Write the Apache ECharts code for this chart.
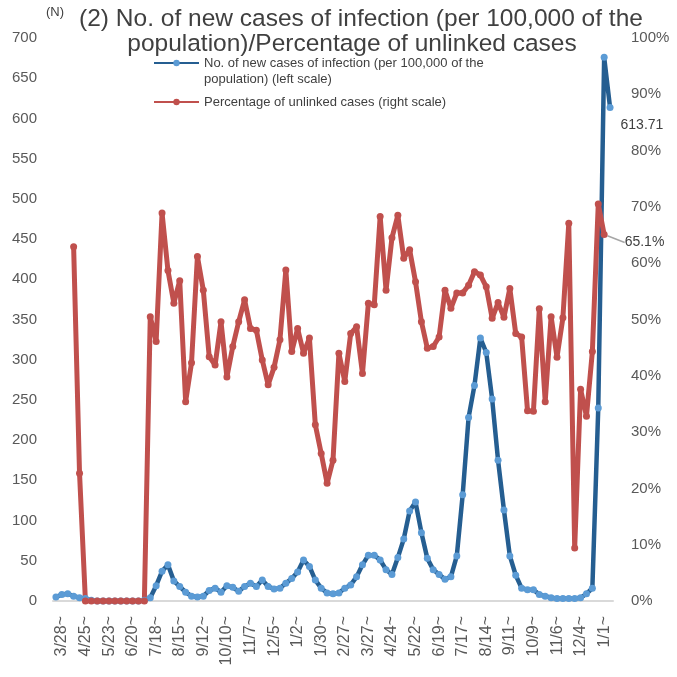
<!DOCTYPE html>
<html>
<head>
<meta charset="utf-8">
<script src="https://cdn.jsdelivr.net/npm/echarts@6/dist/echarts.min.js"></script>
<style>
  html, body { margin: 0; padding: 0; background: #ffffff; }
  #chart { width: 677px; height: 677px; }
</style>
</head>
<body>
<div id="chart"></div>
<script>
// Week starting dates (weekly, 2020/3/28 - 2022/1/15)
const weeks = [
  '3/28','4/4','4/11','4/18','4/25','5/2','5/9','5/16','5/23','5/30','6/6','6/13','6/20','6/27','7/4','7/11',
  '7/18','7/25','8/1','8/8','8/15','8/22','8/29','9/5','9/12','9/19','9/26','10/3','10/10','10/17','10/24','10/31',
  '11/7','11/14','11/21','11/28','12/5','12/12','12/19','12/26','1/2','1/9','1/16','1/23','1/30','2/6','2/13','2/20',
  '2/27','3/6','3/13','3/20','3/27','4/3','4/10','4/17','4/24','5/1','5/8','5/15','5/22','5/29','6/5','6/12',
  '6/19','6/26','7/3','7/10','7/17','7/24','7/31','8/7','8/14','8/21','8/28','9/4','9/11','9/18','9/25','10/2',
  '10/9','10/16','10/23','10/30','11/6','11/13','11/20','11/27','12/4','12/11','12/18','12/25','1/1','1/8','1/15'
];

// New cases of infection per 100,000 population (left scale)
const newCases = [
  5, 8, 9, 6, 4, 3, 1, 0, 0, 0, 0, 0, 0, 0, 0, 1,
  4, 19, 37, 45, 25, 18, 11, 6, 5, 6, 13, 16, 11, 19, 17, 12,
  18, 22, 18, 26, 18, 15, 16, 22, 28, 36, 51, 43, 26, 16, 10, 9,
  10, 16, 20, 30, 45, 57, 57, 51, 39, 33, 54, 77, 112, 123, 85, 53,
  39, 33, 27, 30, 56, 132, 228, 268, 327, 309, 251, 175, 113, 56, 32, 16,
  14, 14, 8, 6, 4, 3, 3, 3, 3, 4, 9, 16, 240, 676, 613.71
];

// Percentage of unlinked cases (right scale, %)
const unlinkedPct = [
  null, null, null, 62.9, 22.7, 0, 0, 0, 0, 0, 0, 0, 0, 0, 0, 0,
  50.5, 46.1, 68.9, 58.7, 52.9, 56.9, 35.4, 42.3, 61.2, 55.2, 43.4, 41.9, 49.6, 39.8, 45.2, 49.6,
  53.5, 48.4, 48.1, 42.8, 38.4, 41.5, 46.4, 58.8, 44.3, 48.4, 44.0, 46.7, 31.3, 26.2, 20.9, 25.0,
  44.0, 39.0, 47.5, 48.7, 40.4, 52.9, 52.6, 68.3, 55.2, 64.5, 68.5, 60.9, 62.4, 56.7, 49.6, 44.9,
  45.2, 46.9, 55.2, 52.0, 54.7, 54.7, 56.1, 58.5, 57.9, 55.8, 50.2, 53.0, 50.4, 55.5, 47.5, 46.9,
  33.8, 33.7, 51.9, 35.4, 50.5, 43.3, 50.3, 67.1, 9.4, 37.6, 32.8, 44.3, 70.5, 65.1
];

const casesName = 'No. of new cases of infection (per 100,000 of the population) (left scale)';
const pctName = 'Percentage of unlinked cases (right scale)';

const SANS = "'Liberation Sans', Arial, sans-serif";
const TEXT = '#404040';
const AXIS_TEXT = '#595959';

// Only the latest value of each series carries a data label
const casesData = newCases.map((v, i) => i === newCases.length - 1
  ? { value: v, label: { show: true, position: 'right', offset: [2, 18], formatter: String(v),
      fontFamily: SANS, fontSize: 14, color: TEXT } }
  : v);
const pctData = unlinkedPct.map((v, i) => i === unlinkedPct.length - 1
  ? { value: v, label: { show: true, position: 'right', formatter: v.toFixed(1) + '%',
      fontFamily: SANS, fontSize: 14, color: TEXT } }
  : v);

const chart = echarts.init(document.getElementById('chart'), null, { renderer: 'canvas' });

chart.setOption({
  backgroundColor: '#ffffff',
  animation: false,
  graphic: [
    { type: 'text', x: 46, y: 6, style: { text: '(N)', fontFamily: SANS, fontSize: 13, fill: TEXT } },
    { type: 'text', x: 361, y: 7, style: { text: '(2) No. of new cases of infection (per 100,000 of the',
      fontFamily: SANS, fontSize: 24.5, fill: TEXT, align: 'center' } },
    { type: 'text', x: 352, y: 32, style: { text: 'population)/Percentage of unlinked cases',
      fontFamily: SANS, fontSize: 24.5, fill: TEXT, align: 'center' } }
  ],
  legend: [
    {
      data: [casesName],
      left: 148, top: 34, itemWidth: 45, itemHeight: 8,
      formatter: () => '\nNo. of new cases of infection (per 100,000 of the\npopulation) (left scale)',
      textStyle: { fontFamily: SANS, fontSize: 13, color: TEXT, lineHeight: 16 }
    },
    {
      data: [pctName],
      left: 148, top: 89, itemWidth: 45, itemHeight: 8,
      textStyle: { fontFamily: SANS, fontSize: 13, color: TEXT, lineHeight: 16 }
    }
  ],
  grid: { left: 53, right: 64, top: 38, bottom: 76, containLabel: false },
  xAxis: {
    type: 'category',
    data: weeks,
    boundaryGap: true,
    axisLine: { lineStyle: { color: '#D9D9D9', width: 2 } },
    axisTick: { show: false },
    axisLabel: {
      interval: 3, rotate: 90, margin: 15,
      formatter: d => d + '~',
      fontFamily: SANS, fontSize: 16, color: AXIS_TEXT,
      verticalAlign: 'top', lineHeight: 12
    },
    splitLine: { show: false }
  },
  yAxis: [
    {
      type: 'value', min: 0, max: 700, interval: 50,
      axisLine: { show: false }, axisTick: { show: false }, splitLine: { show: false },
      axisLabel: { fontFamily: SANS, fontSize: 15, color: AXIS_TEXT, margin: 16 }
    },
    {
      type: 'value', min: 0, max: 100, interval: 10,
      axisLine: { show: false }, axisTick: { show: false }, splitLine: { show: false },
      axisLabel: { fontFamily: SANS, fontSize: 15, color: AXIS_TEXT, margin: 18, formatter: '{value}%' }
    }
  ],
  series: [
    {
      name: casesName, type: 'line', yAxisIndex: 0, data: casesData,
      symbol: 'circle', symbolSize: 7, showAllSymbol: true,
      lineStyle: { color: '#255E91', width: 4.5 },
      itemStyle: { color: '#5B9BD5' }
    },
    {
      name: pctName, type: 'line', yAxisIndex: 1, data: pctData,
      symbol: 'circle', symbolSize: 7, showAllSymbol: true, connectNulls: false,
      lineStyle: { color: '#C0504D', width: 5 },
      itemStyle: { color: '#C0504D' },
      labelLayout: { dx: 12, dy: 8 },
      labelLine: { show: true, lineStyle: { color: '#A6A6A6', width: 1.5 } }
    }
  ]
});
</script>
</body>
</html>
